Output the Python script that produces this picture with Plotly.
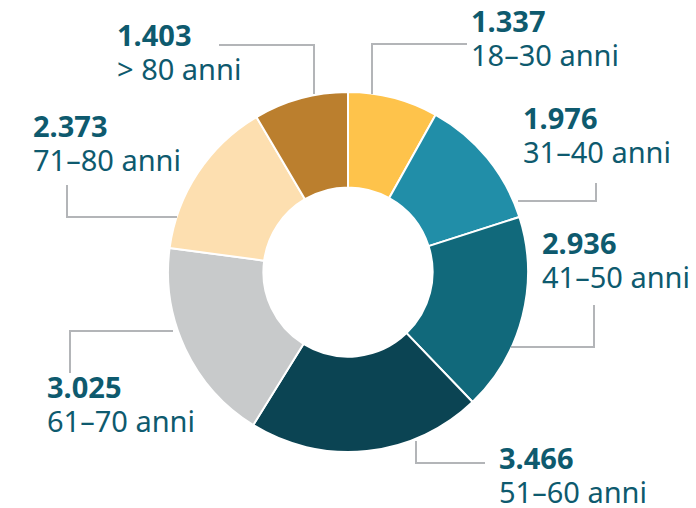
import plotly.graph_objects as go

W, H = 696, 508

# ---- data ----
age_groups = ["18–30 anni", "31–40 anni", "41–50 anni", "51–60 anni",
              "61–70 anni", "71–80 anni", "> 80 anni"]
values = [1337, 1976, 2936, 3466, 3025, 2373, 1403]
value_labels = ["1.337", "1.976", "2.936", "3.466", "3.025", "2.373", "1.403"]

# ---- styles ----
colors = ["#FEC34B", "#218EA8", "#11697B", "#0B4453", "#C8CACB", "#FDDFB0", "#BB7F2E"]
text_color = "#0E5A6E"
line_color = "#B3B5B8"
font_family = "Noto Sans"

# label placement (pixels): left x, baseline of number, baseline of age label
label_pos = [
    (469, 34, 68),
    (521, 132, 165),
    (540, 257, 290),
    (497, 473, 503),
    (45, 402, 433),
    (31, 139, 173),
    (115, 48, 83),
]
# leader lines (pixel polylines)
leaders = [
    [(372, 94), (372, 44), (467, 44)],
    [(518, 201), (596, 201), (596, 183)],
    [(511, 347), (594, 347), (594, 305)],
    [(416, 441), (416, 463), (485, 463)],
    [(173, 331), (70, 331), (70, 373)],
    [(177, 217), (67, 217), (67, 185)],
    [(314, 94), (314, 45), (219, 45)],
]

cx, cy, R = 348, 272, 180

fig = go.Figure()
fig.add_trace(go.Pie(
    values=values,
    labels=age_groups,
    sort=False,
    direction="clockwise",
    rotation=0,
    hole=0.47,
    marker=dict(colors=colors, line=dict(color="white", width=2)),
    textinfo="none",
    hoverinfo="label+value",
    domain=dict(x=[(cx - R) / W, (cx + R) / W],
                y=[(H - cy - R) / H, (H - cy + R) / H]),
    showlegend=False,
))

shapes = []
for pts in leaders:
    path = "M " + " L ".join(f"{x},{y}" for x, y in pts)
    shapes.append(dict(type="path", path=path, xref="x", yref="y",
                       line=dict(color=line_color, width=2)))

annotations = []
for (x, b1, b2), num, lab in zip(label_pos, value_labels, age_groups):
    txt = (f"<span style='font-size:29px'><b>{num}</b></span><br>"
           f"<span style='font-size:29px'>{lab}</span>")
    annotations.append(dict(x=x, y=(b1 + b2) / 2 - 14, xref="x", yref="y", text=txt,
                            showarrow=False, xanchor="left", yanchor="middle",
                            align="left",
                            font=dict(family=font_family, size=26, color=text_color)))

fig.update_layout(
    width=W, height=H,
    margin=dict(l=0, r=0, t=0, b=0),
    paper_bgcolor="white", plot_bgcolor="rgba(0,0,0,0)",
    xaxis=dict(range=[0, W], visible=False, fixedrange=True),
    yaxis=dict(range=[H, 0], visible=False, fixedrange=True),
    shapes=shapes,
    annotations=annotations,
)

fig.write_html("out.html", config=dict(displayModeBar=False),
               post_script="document.body.style.margin='0';")
